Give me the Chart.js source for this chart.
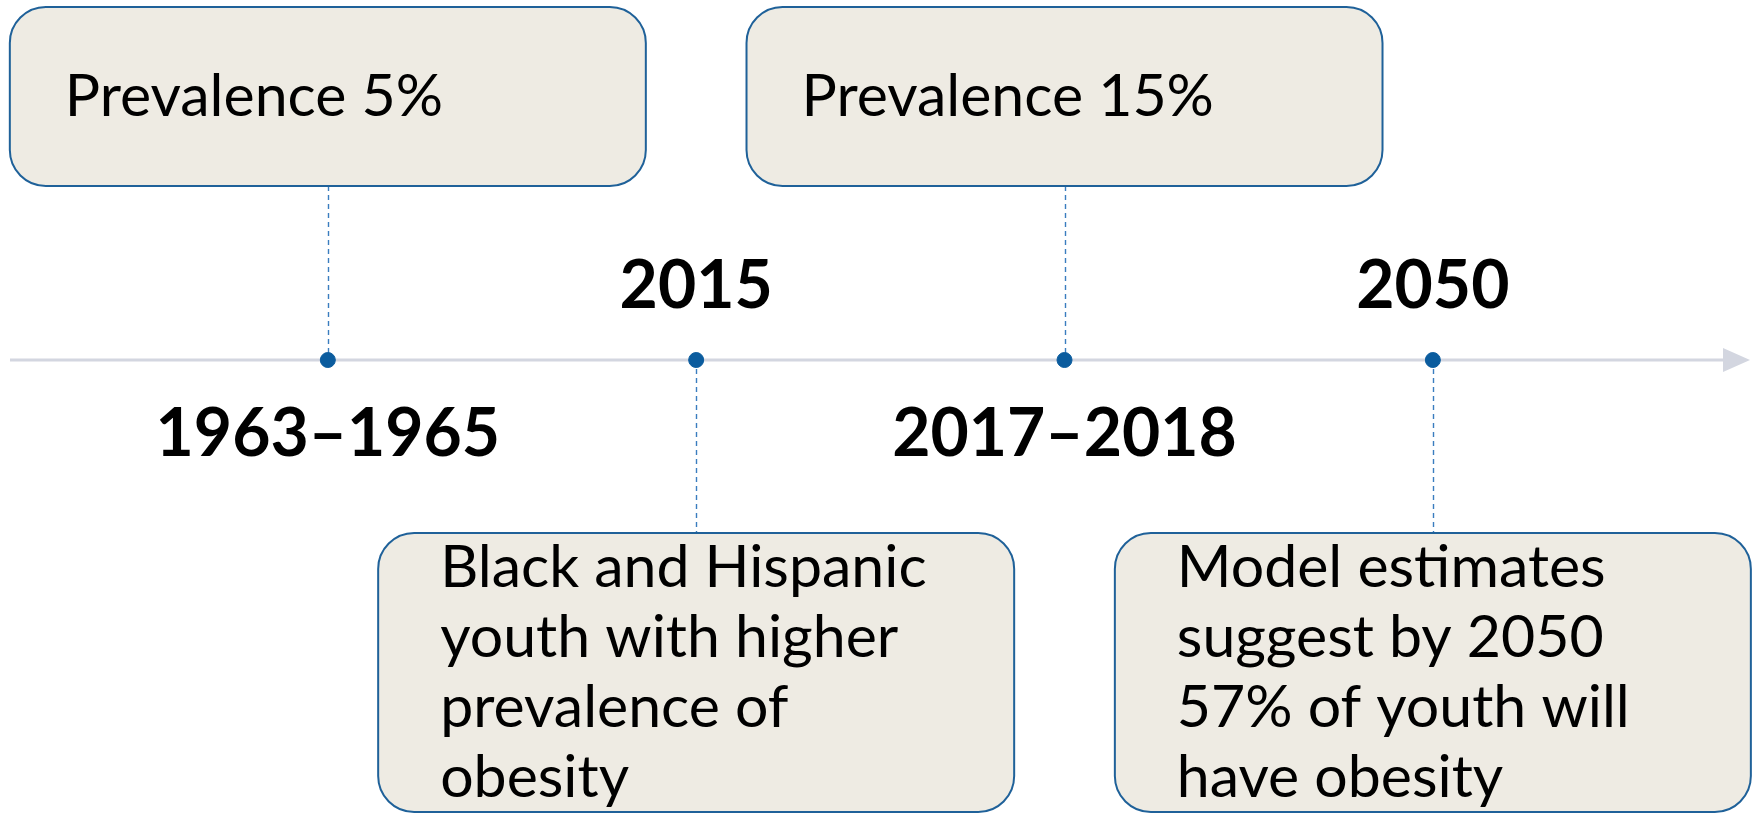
<!DOCTYPE html>
<html>
<head>
<meta charset="utf-8">
<script src="https://cdn.jsdelivr.net/npm/chart.js@4"></script>
<style>
    body { margin: 0; background: #ffffff; }
    #wrap { width: 1757px; height: 814px; }
</style>
</head>
<body>
<div id="wrap"><canvas id="timelineChart" width="1757" height="814"></canvas></div>
<script>
// timeline data
const periods = ['1963–1965', '2015', '2017–2018', '2050'];
const order = [1, 2, 3, 4];
const sides = ['above', 'below', 'above', 'below']; // where the note box sits
const notes = [
    ['Prevalence 5%'],
    ['Black and Hispanic', 'youth with higher', 'prevalence of', 'obesity'],
    ['Prevalence 15%'],
    ['Model estimates', 'suggest by 2050', '57% of youth will', 'have obesity']
];

const noteFont = '59px Lato';
const yearFont = 'bold 66px Lato';

// axis line, connectors, boxes and year labels
const timelinePlugin = {
    id: 'timeline',
    beforeDatasetsDraw(chart) {
        const ctx = chart.ctx;
        const xs = chart.scales.x;
        const y0 = chart.scales.y.getPixelForValue(0);
        const w = chart.width;

        // main axis with arrow
        ctx.save();
        ctx.strokeStyle = '#d3d6e0';
        ctx.fillStyle = '#d3d6e0';
        ctx.lineWidth = 3;
        ctx.beginPath();
        ctx.moveTo(10, y0);
        ctx.lineTo(w - 30, y0);
        ctx.stroke();
        ctx.beginPath();
        ctx.moveTo(w - 7, y0);
        ctx.lineTo(w - 34, y0 - 12);
        ctx.lineTo(w - 34, y0 + 12);
        ctx.closePath();
        ctx.fill();

        // dashed connectors
        ctx.strokeStyle = '#3a7dbf';
        ctx.lineWidth = 1.4;
        ctx.setLineDash([5, 4]);
        order.forEach((v, i) => {
            const x = Math.round(xs.getPixelForValue(v)) + 0.5;
            ctx.beginPath();
            if (sides[i] === 'above') {
                ctx.moveTo(x, y0 - 174);
                ctx.lineTo(x, y0);
            } else {
                ctx.moveTo(x, y0);
                ctx.lineTo(x, y0 + 173);
            }
            ctx.stroke();
        });
        ctx.restore();
    },
    afterDatasetsDraw(chart) {
        const ctx = chart.ctx;
        const xs = chart.scales.x;
        const y0 = chart.scales.y.getPixelForValue(0);
        const boxW = 636;

        ctx.save();
        order.forEach((v, i) => {
            const x = xs.getPixelForValue(v);
            const left = x - boxW / 2;
            let top, h;
            if (sides[i] === 'above') {
                top = y0 - 353; h = 179;
            } else {
                top = y0 + 173; h = 279;
            }

            // note box
            ctx.beginPath();
            ctx.roundRect(left, top, boxW, h, 36);
            ctx.fillStyle = '#eeebe3';
            ctx.fill();
            ctx.lineWidth = 2;
            ctx.strokeStyle = '#1f6199';
            ctx.stroke();

            // note text
            ctx.fillStyle = '#000000';
            ctx.font = noteFont;
            ctx.textAlign = 'left';
            ctx.textBaseline = 'alphabetic';
            if (sides[i] === 'above') {
                ctx.fillText(notes[i][0], left + 55, top + 109);
            } else {
                notes[i].forEach((line, k) => {
                    ctx.fillText(line, left + 62, top + 54 + k * 70);
                });
            }

            // year label on the opposite side
            ctx.font = yearFont;
            ctx.textAlign = 'center';
            const base = sides[i] === 'above' ? y0 + 96 : y0 - 52;
            ctx.fillText(periods[i], x, base);
        });
        ctx.restore();
    }
};

new Chart(document.getElementById('timelineChart'), {
    type: 'scatter',
    data: {
        labels: periods,
        datasets: [{
            data: order.map(v => ({ x: v, y: 0 })),
            backgroundColor: '#0b5c9e',
            borderColor: '#0b5c9e',
            pointRadius: 7.5,
            pointHoverRadius: 7.5
        }]
    },
    options: {
        responsive: false,
        animation: false,
        layout: { padding: 0, autoPadding: false },
        scales: {
            x: { type: 'linear', display: false, min: 0.11, max: 4.88 },
            y: { type: 'linear', display: false, min: -1.261, max: 1 }
        },
        plugins: {
            legend: { display: false },
            tooltip: { enabled: false }
        }
    },
    plugins: [timelinePlugin]
});
</script>
</body>
</html>
